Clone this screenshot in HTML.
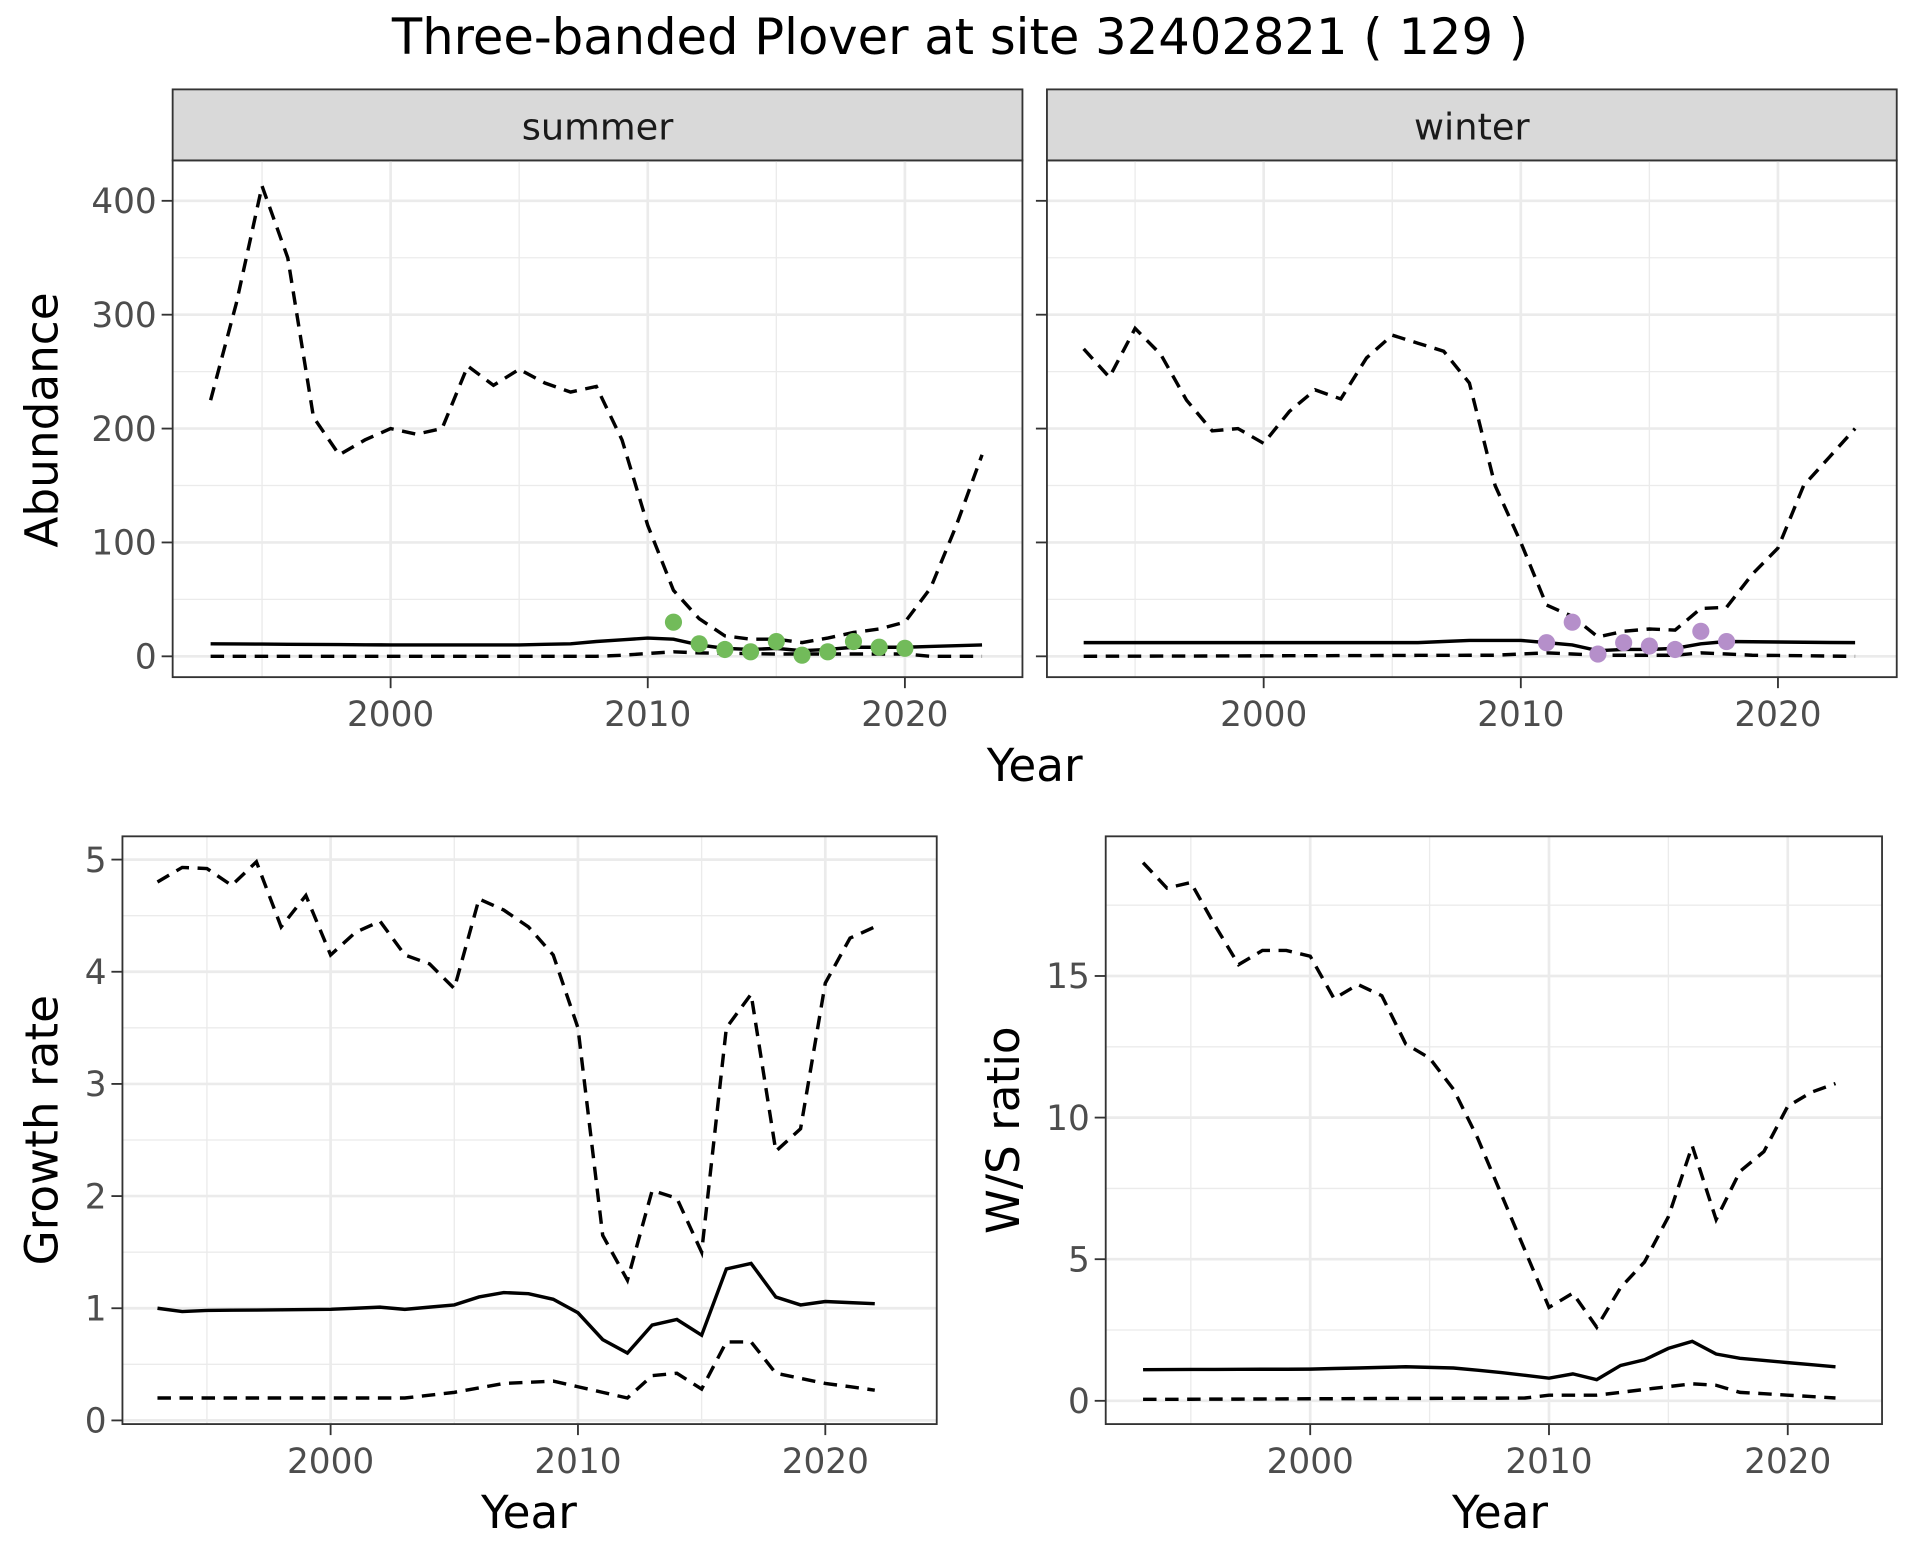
<!DOCTYPE html>
<html><head><meta charset="utf-8"><style>
html,body{margin:0;padding:0;background:#fff;}
svg{display:block;}
text{font-family:"DejaVu Sans","Liberation Sans",sans-serif;}
</style></head><body>
<svg id="s" width="1920" height="1560" viewBox="0 0 1568 1274" xmlns="http://www.w3.org/2000/svg">
<rect width="1568" height="1274" fill="#fff"/>
<text x="784" y="44" font-size="40.5" text-anchor="middle" fill="#000">Three-banded Plover at site 32402821 ( 129 )</text>
</svg>
<script>
const S=document.getElementById('s');const NS='http://www.w3.org/2000/svg';
function el(t,a,txt){const e=document.createElementNS(NS,t);for(const k in a)e.setAttribute(k,a[k]);if(txt!==undefined)e.textContent=txt;S.appendChild(e);return e;}
function interp(pts){const ys=Object.keys(pts).map(Number).sort((a,b)=>a-b);const out=[];for(let y=ys[0];y<=ys[ys.length-1];y++){let i=0;while(i<ys.length-1&&ys[i+1]<y)i++;const a=ys[i],b=ys[Math.min(i+1,ys.length-1)];const v=(a===b)?pts[a]:pts[a]+(pts[b]-pts[a])*(y-a)/(b-a);out.push([y,v]);}return out;}
function panel(p){
 const {x0,x1,y0,y1,X,Y,xt,yt,yminor,xminor}=p;
 for(const v of yminor)el('line',{x1:x0,x2:x1,y1:Y(v),y2:Y(v),stroke:'#ebebeb','stroke-width':1.1});
 for(const v of xminor)el('line',{x1:X(v),x2:X(v),y1:y0,y2:y1,stroke:'#ebebeb','stroke-width':1.1});
 for(const v of yt)el('line',{x1:x0,x2:x1,y1:Y(v),y2:Y(v),stroke:'#ebebeb','stroke-width':2.2});
 for(const v of xt)el('line',{x1:X(v),x2:X(v),y1:y0,y2:y1,stroke:'#ebebeb','stroke-width':2.2});
 for(const s of p.series){const d=interp(s.d).map((q,i)=>(i?'L':'M')+X(q[0]).toFixed(1)+','+Y(q[1]).toFixed(1)).join('');
  el('path',{d:d,fill:'none',stroke:'#000','stroke-width':2.8,'stroke-dasharray':s.dash?'11,7':'none'});}
 if(p.pts)for(const k in p.pts)el('circle',{cx:X(+k),cy:Y(p.pts[k]),r:7,fill:p.col});
 el('rect',{x:x0,y:y0,width:x1-x0,height:y1-y0,fill:'none',stroke:'#333','stroke-width':1.5});
 for(const v of yt){el('line',{x1:x0-9,x2:x0,y1:Y(v),y2:Y(v),stroke:'#333','stroke-width':1.5});if(p.ylab)el('text',{x:x0-13,y:Y(v)+10,'font-size':28,'text-anchor':'end',fill:'#4d4d4d'},String(v));}
 for(const v of xt){el('line',{x1:X(v),x2:X(v),y1:y1,y2:y1+9,stroke:'#333','stroke-width':1.5});el('text',{x:X(v),y:y1+40,'font-size':28,'text-anchor':'middle',fill:'#4d4d4d'},String(v));}
}
const AY=v=>536-v*0.93;
const sumU={1993:225,1994:310,1995:413,1996:350,1997:210,1998:177,1999:190,2000:200,2001:195,2002:200,2003:255,2004:238,2005:252,2006:240,2007:232,2008:237,2009:190,2010:115,2011:58,2012:33,2013:18,2014:15,2015:15,2016:12,2017:16,2018:21,2019:24,2020:30,2021:60,2022:115,2023:177};
const sumM={1993:11,2000:10,2005:10,2007:11,2008:13,2010:16,2011:15,2012:10,2013:7,2014:6,2015:7,2016:5,2017:6,2018:8,2020:8,2023:10};
const sumL={1993:0,2008:0,2009:1,2011:4,2012:3,2015:2,2020:2,2021:0,2023:0};
const winU={1993:270,1994:245,1995:288,1996:265,1997:225,1998:198,1999:200,2000:187,2001:215,2002:234,2003:226,2004:262,2005:282,2006:275,2007:268,2008:240,2009:150,2010:100,2011:45,2012:35,2013:17,2014:22,2015:24,2016:23,2017:42,2018:43,2019:72,2020:95,2021:150,2022:175,2023:200};
const winM={1993:12,2006:12,2008:14,2010:14,2011:12,2012:10,2013:5,2014:6,2015:6,2016:7,2017:11,2018:13,2023:12};
const winL={1993:0,2009:1,2011:3,2013:1,2016:1,2017:3,2019:1,2023:0};
const tops=[{x0:141,x1:835,off:319,lab:'summer',u:sumU,m:sumM,l:sumL,pts:{2011:30,2012:11,2013:6,2014:4,2015:13,2016:1,2017:4,2018:13,2019:8,2020:7},col:'#72bb5a',ylab:true},
{x0:855,x1:1549,off:1032,lab:'winter',u:winU,m:winM,l:winL,pts:{2011:12,2012:30,2013:2,2014:12,2015:9,2016:6,2017:22,2018:13},col:'#b58fca',ylab:false}];
for(const t of tops){
 el('rect',{x:t.x0,y:73,width:t.x1-t.x0,height:58,fill:'#d9d9d9',stroke:'#333','stroke-width':1.5});
 el('text',{x:(t.x0+t.x1)/2,y:114,'font-size':30,'text-anchor':'middle',fill:'#1a1a1a'},t.lab);
 panel({x0:t.x0,x1:t.x1,y0:131,y1:553,X:v=>t.off+(v-2000)*21,Y:AY,xt:[2000,2010,2020],yt:[0,100,200,300,400],yminor:[50,150,250,350],xminor:[1995,2005,2015],
  series:[{d:t.u,dash:1},{d:t.m},{d:t.l,dash:1}],pts:t.pts,col:t.col,ylab:t.ylab});
}
el('text',{x:845,y:638,'font-size':37,'text-anchor':'middle'},'Year');
el('text',{x:0,y:0,'font-size':37,'text-anchor':'middle',transform:'translate(47,343) rotate(-90)'},'Abundance');
panel({x0:100,x1:765,y0:683,y1:1163,X:v=>270+(v-2000)*20.2,Y:v=>1160-v*91.6,xt:[2000,2010,2020],yt:[0,1,2,3,4,5],yminor:[0.5,1.5,2.5,3.5,4.5],xminor:[1995,2005,2015],ylab:true,series:[
 {dash:1,d:{1993:4.8,1994:4.93,1995:4.92,1996:4.77,1997:4.98,1998:4.4,1999:4.68,2000:4.15,2001:4.35,2002:4.45,2003:4.15,2004:4.07,2005:3.85,2006:4.65,2007:4.55,2008:4.4,2009:4.15,2010:3.5,2011:1.65,2012:1.25,2013:2.05,2014:1.98,2015:1.5,2016:3.5,2017:3.8,2018:2.4,2019:2.6,2020:3.9,2021:4.3,2022:4.4}},
 {d:{1993:1.0,1994:0.97,1995:0.98,2000:0.99,2002:1.01,2003:0.99,2005:1.03,2006:1.1,2007:1.14,2008:1.13,2009:1.08,2010:0.96,2011:0.72,2012:0.6,2013:0.85,2014:0.9,2015:0.76,2016:1.35,2017:1.4,2018:1.1,2019:1.03,2020:1.06,2021:1.05,2022:1.04}},
 {dash:1,d:{1993:0.2,2003:0.2,2005:0.25,2007:0.33,2009:0.35,2010:0.3,2012:0.2,2013:0.4,2014:0.42,2015:0.28,2016:0.7,2017:0.7,2018:0.42,2020:0.33,2022:0.27}}]});
el('text',{x:432,y:1248,'font-size':37,'text-anchor':'middle'},'Year');
el('text',{x:0,y:0,'font-size':37,'text-anchor':'middle',transform:'translate(47,923) rotate(-90)'},'Growth rate');
panel({x0:903,x1:1537,y0:683,y1:1163,X:v=>1070+(v-2000)*19.5,Y:v=>1144-v*23.13,xt:[2000,2010,2020],yt:[0,5,10,15],yminor:[2.5,7.5,12.5,17.5],xminor:[1995,2005,2015],ylab:true,series:[
 {dash:1,d:{1993:19,1994:18.1,1995:18.3,1996:16.8,1997:15.4,1998:15.9,1999:15.9,2000:15.7,2001:14.2,2002:14.7,2003:14.3,2004:12.6,2005:12.1,2006:11,2007:9.3,2008:7.3,2009:5.3,2010:3.3,2011:3.8,2012:2.6,2013:4,2014:4.9,2015:6.5,2016:9,2017:6.4,2018:8.1,2019:8.8,2020:10.4,2021:10.9,2022:11.2}},
 {d:{1993:1.1,2000:1.12,2004:1.2,2006:1.16,2008:1.0,2010:0.8,2011:0.95,2012:0.75,2013:1.25,2014:1.45,2015:1.85,2016:2.1,2017:1.65,2018:1.5,2020:1.35,2022:1.2}},
 {dash:1,d:{1993:0.05,2009:0.1,2010:0.2,2012:0.2,2013:0.3,2015:0.5,2016:0.6,2017:0.55,2018:0.3,2020:0.2,2022:0.1}}]});
el('text',{x:1225,y:1248,'font-size':37,'text-anchor':'middle'},'Year');
el('text',{x:0,y:0,'font-size':37,'text-anchor':'middle',transform:'translate(832,923) rotate(-90)'},'W/S ratio');
</script>
</body></html>
